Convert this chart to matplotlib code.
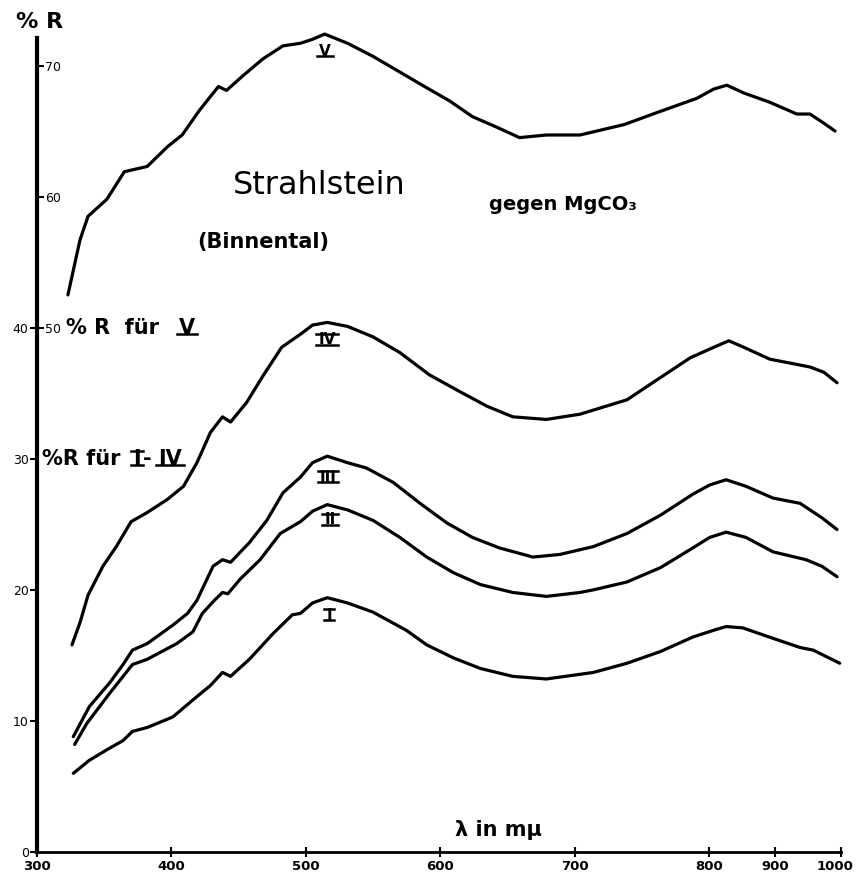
import numpy as np
import matplotlib
matplotlib.use("Agg")
import matplotlib.pyplot as plt
from matplotlib.lines import Line2D
from matplotlib.transforms import IdentityTransform, ScaledTranslation

# ---------------- data ----------------
lam_V = [323, 332, 338, 352, 365, 382, 397, 408, 421, 435, 441, 453, 468, 483, 496, 505, 514, 531,
         550, 570, 590, 607, 624, 642, 659, 679, 704, 737, 761, 791, 807, 827, 853, 892, 933, 953, 974, 991]
val_V = [52.5, 56.7, 58.5, 59.8, 61.9, 62.3, 63.8, 64.7, 66.6, 68.4, 68.1, 69.2, 70.5, 71.5, 71.7, 72.0, 72.4, 71.7,
         70.7, 69.5, 68.3, 67.3, 66.1, 65.3, 64.5, 64.7, 64.7, 65.5, 66.4, 67.5, 68.2, 68.5, 67.9, 67.2, 66.3, 66.3, 65.6, 65.0]

lam_IV = [326, 332, 338, 349, 359, 370, 382, 397, 409, 419, 429, 438, 444, 456, 468, 482, 496, 505, 516, 531,
          550, 570, 592, 615, 635, 654, 679, 704, 739, 761, 786, 807, 830, 853, 892, 933, 953, 974, 994]
val_IV = [15.8, 17.5, 19.6, 21.8, 23.3, 25.2, 25.9, 26.9, 27.9, 29.7, 32.0, 33.2, 32.8, 34.3, 36.3, 38.5, 39.5, 40.2, 40.4, 40.1,
          39.3, 38.1, 36.4, 35.1, 34.0, 33.2, 33.0, 33.4, 34.5, 36.0, 37.7, 38.5, 39.0, 38.5, 37.6, 37.2, 37.0, 36.6, 35.8]

lam_III = [327, 339, 354, 364, 371, 382, 401, 412, 419, 431, 438, 444, 458, 471, 483, 496, 505, 516, 531, 545,
           565, 585, 605, 624, 644, 669, 689, 714, 739, 764, 788, 801, 826, 856, 897, 938, 947, 971, 994]
val_III = [8.8, 11.1, 12.9, 14.3, 15.4, 15.9, 17.3, 18.2, 19.2, 21.8, 22.3, 22.1, 23.6, 25.3, 27.4, 28.6, 29.7, 30.2, 29.7, 29.3,
           28.2, 26.6, 25.1, 24.0, 23.2, 22.5, 22.7, 23.3, 24.3, 25.7, 27.3, 28.0, 28.4, 27.9, 27.0, 26.6, 26.3, 25.5, 24.6]

lam_II = [328, 337, 354, 371, 382, 404, 416, 423, 432, 438, 442, 451, 466, 481, 496, 505, 516, 531, 550,
          570, 590, 610, 630, 654, 679, 704, 714, 739, 764, 788, 801, 826, 856, 897, 947, 971, 994]
val_II = [8.2, 9.8, 12.1, 14.3, 14.7, 15.9, 16.8, 18.2, 19.2, 19.8, 19.7, 20.8, 22.3, 24.3, 25.2, 26.0, 26.5, 26.1, 25.3,
          24.0, 22.5, 21.3, 20.4, 19.8, 19.5, 19.8, 20.0, 20.6, 21.7, 23.2, 24.0, 24.4, 24.0, 22.9, 22.3, 21.8, 21.0]

lam_I = [327, 339, 352, 364, 371, 382, 401, 416, 429, 438, 444, 458, 476, 490, 496, 505, 516, 531, 550,
         575, 590, 610, 630, 654, 679, 714, 739, 764, 788, 806, 826, 851, 897, 938, 958, 998]
val_I = [6.0, 7.0, 7.8, 8.5, 9.2, 9.5, 10.3, 11.6, 12.7, 13.7, 13.4, 14.7, 16.7, 18.1, 18.2, 19.0, 19.4, 19.0, 18.3,
         16.9, 15.8, 14.8, 14.0, 13.4, 13.2, 13.7, 14.4, 15.3, 16.4, 16.9, 17.2, 17.1, 16.3, 15.6, 15.4, 14.4]

x_ticks = [300, 400, 500, 600, 700, 800, 900, 1000]
y_ticks_I_IV = [0, 10, 20, 30, 40]
y_ticks_V = [50, 60, 70]

# ---------------- figure ----------------
W, H = 857, 875
fig = plt.figure(figsize=(W / 100, H / 100), dpi=100)
fig.patch.set_facecolor("white")
ax = fig.add_axes([37 / W, 1 - 852 / H, (841 - 37) / W, (852 - 38) / H])


def fwd(x):
    x = np.asarray(x, dtype=float)
    return np.where(x <= 800, (x - 300) * 1.344, 672 + (x - 800) * 0.66)


def inv(y):
    y = np.asarray(y, dtype=float)
    return np.where(y <= 672, 300 + y / 1.344, 800 + (y - 672) / 0.66)


ax.set_xscale("function", functions=(fwd, inv))
ax.set_xlim(300, 1000)
ax.set_ylim(0, 62.1)

for s in ["top", "right"]:
    ax.spines[s].set_visible(False)
ax.spines["left"].set_linewidth(3)
ax.spines["bottom"].set_linewidth(2)

ax.set_xticks(x_ticks)
ax.set_xticklabels([str(v) for v in x_ticks], fontsize=9.5, fontweight="bold")
ax.tick_params(axis="x", direction="inout", length=7, width=1.5, pad=2)
ax.set_yticks(y_ticks_I_IV)
ax.set_yticklabels([str(v) for v in y_ticks_I_IV], fontsize=9)
ax.tick_params(axis="y", direction="out", length=5, width=1.5, pad=1)
ax.minorticks_off()

# keep the last x label inside the picture, as in the reference
last = ax.get_xticklabels()[-1]
last.set_transform(last.get_transform() + ScaledTranslation(-6 / 100, 0, fig.dpi_scale_trans))

lw = 2.3
for lam, val in [(lam_IV, val_IV), (lam_III, val_III), (lam_II, val_II), (lam_I, val_I)]:
    ax.plot(lam, val, color="black", lw=lw, solid_capstyle="round", clip_on=False)

# curve V uses the shifted scale (V value = I-IV scale + 10)
axv = ax.twinx()
axv.set_ylim(10, 72.1)
for s in axv.spines.values():
    s.set_visible(False)
axv.set_yticks([])
axv.plot(lam_V, val_V, color="black", lw=lw, solid_capstyle="round", clip_on=False)

sec = ax.secondary_yaxis(0.0, functions=(lambda y: y + 10, lambda y: y - 10))
sec.set_alignment("right")
sec.spines["right"].set_visible(False)
sec.set_yticks(y_ticks_V)
sec.set_yticklabels([str(v) for v in y_ticks_V], fontsize=9)
sec.tick_params(axis="y", direction="out", length=5, width=1.5, pad=1)

# ---------------- texts ----------------
def ftext(x, y, s, **kw):
    return fig.text(x / W, 1 - y / H, s, va="center", **kw)


ftext(16, 22, "% R", fontsize=16, fontweight="bold", ha="left")
ftext(233, 185, "Strahlstein", fontsize=23, ha="left")
ftext(197, 242, "(Binnental)", fontsize=15, fontweight="bold", ha="left")
ftext(489, 204, "gegen MgCO₃", fontsize=14, fontweight="bold", ha="left")
ftext(66, 328, "% R  für", fontsize=15, fontweight="bold", ha="left")
ftext(42, 459, "%R für", fontsize=15, fontweight="bold", ha="left")
ftext(147, 459, "-", fontsize=15, fontweight="bold", ha="center")
ftext(455, 830, "λ in mμ", fontsize=15, fontweight="bold", ha="left")

barred = []
barred.append((ftext(187, 328, "V", fontsize=15, fontweight="bold", ha="center"), False, True))
barred.append((ftext(137, 459, "I", fontsize=15, fontweight="bold", ha="center"), True, True))
barred.append((ftext(170, 459, "IV", fontsize=15, fontweight="bold", ha="center"), False, True))
barred.append((ftext(325, 51, "V", fontsize=11, fontweight="bold", ha="center"), False, True))
barred.append((ftext(327, 340, "IV", fontsize=11, fontweight="bold", ha="center"), True, True))
barred.append((ftext(328, 477, "III", fontsize=11, fontweight="bold", ha="center"), True, True))
barred.append((ftext(330, 520, "II", fontsize=11, fontweight="bold", ha="center"), True, True))
barred.append((ftext(329, 615, "I", fontsize=11, fontweight="bold", ha="center"), True, True))

fig.canvas.draw()
renderer = fig.canvas.get_renderer()
for t, over, under in barred:
    bb = t.get_window_extent(renderer)
    pad = 2
    if under:
        yb = bb.y0 + bb.height * 0.18
        fig.add_artist(Line2D([bb.x0 - pad, bb.x1 + pad], [yb, yb], transform=IdentityTransform(),
                              color="black", lw=1.8))
    if over:
        yt = bb.y1 - bb.height * 0.08
        fig.add_artist(Line2D([bb.x0 - pad, bb.x1 + pad], [yt, yt], transform=IdentityTransform(),
                              color="black", lw=1.8))

fig.savefig("out.png", dpi=100, facecolor="white")
